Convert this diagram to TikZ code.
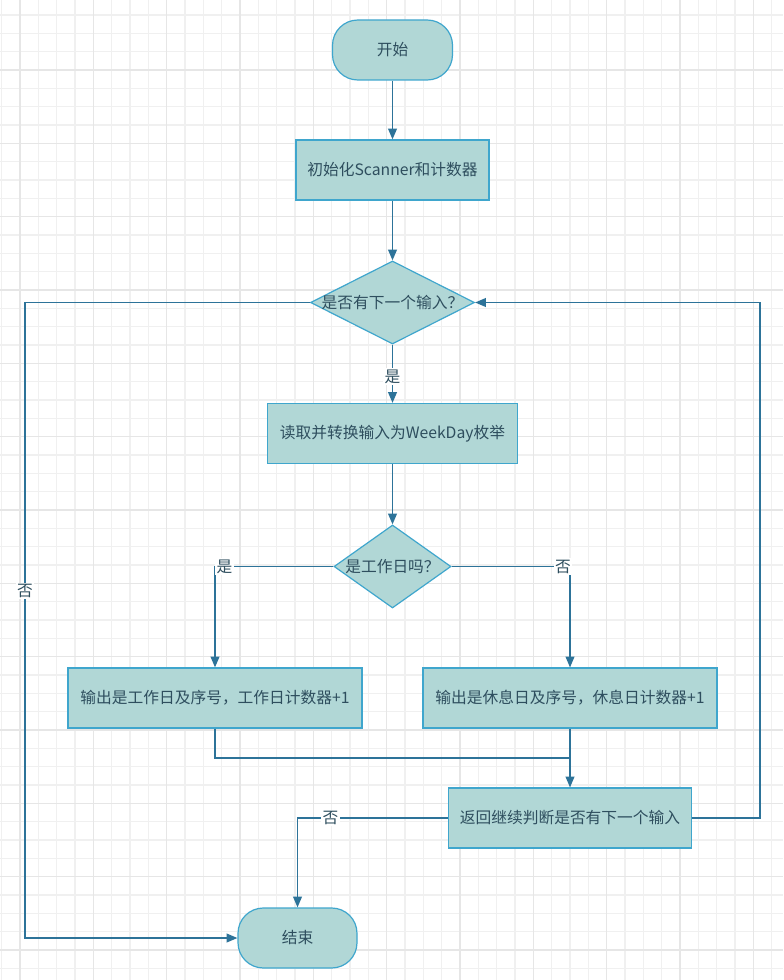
\documentclass[tikz,border=0pt]{standalone}
\usepackage{fontspec}
\setmainfont{Noto Sans CJK SC}
\usepackage[HTML]{xcolor}
\usetikzlibrary{positioning, arrows.meta, shapes.geometric}
\definecolor{boxfill}{HTML}{B1D7D6}
\definecolor{boxline}{HTML}{3FA6CD}
\definecolor{flowline}{HTML}{2D7399}
\definecolor{flowtext}{HTML}{2E4E5E}
\definecolor{gridminor}{HTML}{F0F0F0}
\definecolor{gridmajor}{HTML}{E6E6E6}

\begin{document}
\begin{tikzpicture}[x=0.75pt,y=-0.75pt,
  base/.style={draw=boxline,fill=boxfill,line width=0.9pt,text=flowtext,font=\fontsize{11.8pt}{14pt}\selectfont,inner sep=0pt,minimum height=45pt},
  terminal/.style={base,rounded corners=19pt,minimum width=90pt},
  process/.style={base},
  decision/.style={base,diamond,minimum height=62.25pt},
  flow/.style={draw=flowline,line width=1.1pt},
  arr/.style={flow,-{Triangle[length=8pt,width=6.5pt]}},
  lbl/.style={fill=white,text=flowtext,inner sep=1pt,font=\fontsize{11.8pt}{14pt}\selectfont}]
\useasboundingbox (0,0) rectangle (783,980);
\fill[white] (0,0) rectangle (783,980);
\foreach \i in {0,...,42} \draw[gridminor,line width=0.8pt] (1.67+18.333*\i,0)--(1.67+18.333*\i,980);
\foreach \i in {1,...,53} \draw[gridminor,line width=0.8pt] (0,-3.33+18.333*\i)--(783,-3.33+18.333*\i);
\foreach \i in {0,...,10} \draw[gridmajor,line width=1.2pt] (20+73.333*\i,0)--(20+73.333*\i,980);
\foreach \i in {1,...,13} \draw[gridmajor,line width=1.2pt] (0,-3.33+73.333*\i)--(783,-3.33+73.333*\i);

\node[terminal] (start) at (392.5,50) {开始};
\node[process,minimum width=144.75pt] (init) at (392.5,170) {初始化Scanner和计数器};
\node[decision,minimum width=123pt] (hasnext) at (392.5,302.5) {\makebox[0pt]{是否有下一个输入？}};
\node[process,minimum width=187.5pt] (read) at (392.5,433.5) {读取并转换输入为WeekDay枚举};
\node[decision,minimum width=87.75pt] (isworkday) at (392.5,566.5) {\makebox[0pt]{是工作日吗？}};
\node[process,minimum width=220.5pt] (workday) at (215,698) {输出是工作日及序号，工作日计数器+1};
\node[process,minimum width=220.5pt] (restday) at (570,698) {输出是休息日及序号，休息日计数器+1};
\node[process,minimum width=182.25pt] (back) at (570,818) {返回继续判断是否有下一个输入};
\node[terminal,minimum width=89.25pt] (end) at (297.5,938) {结束};
\coordinate (merge) at (570,758);

\draw[arr] (start) -- (init);
\draw[arr] (init) -- (hasnext);
\draw[arr] (hasnext) -- node[lbl,pos=0.55] {是} (read);
\draw[arr] (read) -- (isworkday);
\draw[arr] (isworkday.west) -| node[lbl,pos=0.46] {是} (workday.north);
\draw[arr] (isworkday.east) -| node[lbl,pos=0.47] {否} (restday.north);
\draw[flow] (workday.south) |- (merge);
\draw[arr] (restday.south) -- (back.north);
\draw[arr] (back.east) -- ++(68,0) |- (hasnext.east);
\draw[arr] (back.west) -| node[lbl,pos=0.39] {否} (end.north);
\draw[arr] (hasnext.west) -- ++(-285,0) |- node[lbl,pos=0.227] {否} (end.west);
\end{tikzpicture}
\end{document}
